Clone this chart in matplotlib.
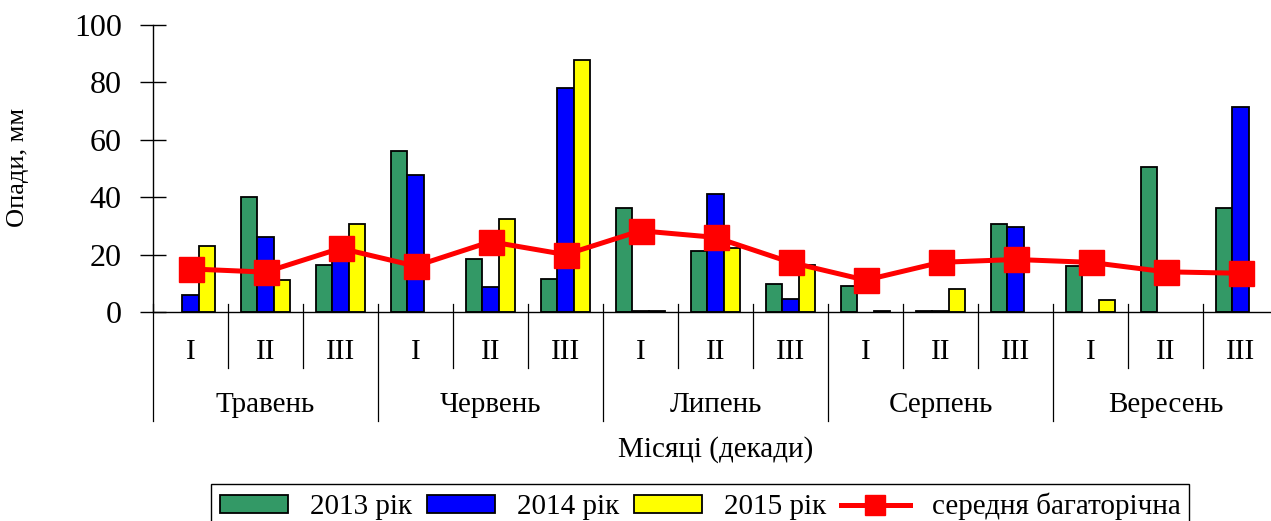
"""Опади по декадах (травень–вересень), 2013–2015 рр. та середня багаторічна."""
import numpy as np
import matplotlib
matplotlib.use("Agg")
import matplotlib.pyplot as plt
from matplotlib.lines import Line2D
from matplotlib.patches import Patch

# ── data ───────────────────────────────────────────────────────────────────
months = ["Травень", "Червень", "Липень", "Серпень", "Вересень"]
decades = ["I", "II", "III"]

rain_2013 = [0, 40, 16.4, 56, 18.5, 11.5, 36.2, 21.3, 9.8, 9.2, 0.5, 30.7, 16, 50.5, 36.2]
rain_2014 = [6, 26, 26, 47.7, 8.7, 77.9, 0.5, 41, 4.4, 0, 0.5, 29.6, 0, 0, 71.4]
rain_2015 = [23, 11, 30.7, 0, 32.3, 87.8, 0.5, 22.4, 16.4, 0.5, 8.1, 0, 4.3, 0, 0]
rain_mean = [15, 13.9, 22.2, 16, 24.5, 20, 28.3, 26, 17.3, 11.1, 17.3, 18.3, 17.3, 14, 13.5]

series = [("2013 рік", rain_2013, "#339966"),
          ("2014 рік", rain_2014, "#0000FF"),
          ("2015 рік", rain_2015, "#FFFF00")]

plt.rcParams["font.family"] = ["Liberation Serif", "DejaVu Serif"]

# ── figure ─────────────────────────────────────────────────────────────────
fig = plt.figure(figsize=(12.71, 5.21), dpi=100)
ax = fig.add_axes([153 / 1271, 1 - 312 / 521, 1125 / 1271, 287 / 521])

n = len(rain_mean)
x = np.arange(n)
w = 0.22
for k, (name, vals, col) in enumerate(series):
    v = np.asarray(vals, dtype=float)
    v = np.where(v > 0, v, np.nan)
    ax.bar(x + (k - 1) * w, v, width=w, color=col, edgecolor="black",
           linewidth=1.3, zorder=2)

ax.plot(x, rain_mean, color="#FF0000", lw=3.6, marker="s", ms=18,
        zorder=3, solid_joinstyle="miter")

ax.set_xlim(-0.5, n - 0.5)
ax.set_ylim(0, 100)
ax.set_yticks(range(0, 101, 20))
ax.tick_params(axis="y", direction="inout", length=19, width=1,
               labelsize=23, pad=13)
ax.tick_params(axis="x", length=0, labelbottom=False)
for s in ("top", "right"):
    ax.spines[s].set_visible(False)
for s in ("left", "bottom"):
    ax.spines[s].set_linewidth(1)
    ax.spines[s].set_color("black")

# multi-level category axis
tr = ax.get_xaxis_transform()
for k in range(n + 1):
    xs = k - 0.5
    y_end = -0.38 if k % 3 == 0 else -0.195
    ax.plot([xs, xs], [0.028, y_end], color="black", lw=0.9,
            transform=tr, clip_on=False)
for i in range(n):
    ax.text(i, -0.139, decades[i % 3], transform=tr, ha="center",
            va="center", fontsize=21)
for m, name in enumerate(months):
    ax.text(3 * m + 1, -0.324, name, transform=tr, ha="center",
            va="center", fontsize=21)

ax.text(0.5, -0.478, "Місяці (декади)", transform=ax.transAxes,
        ha="center", va="center", fontsize=21)
fig.text(18 / 1271, 1 - 167 / 521, "Опади, мм", rotation=90,
         ha="center", va="center", fontsize=19)

# legend
handles = [Patch(facecolor=col, edgecolor="black", linewidth=1.3)
           for _, _, col in series]
handles.append(Line2D([], [], color="#FF0000", lw=3.6, marker="s", ms=14))
labels = [name for name, _, _ in series] + ["середня багаторічна"]
leg = fig.legend(handles, labels, ncol=4, loc="upper center",
                 bbox_to_anchor=(700 / 1271, 1 - 484 / 521),
                 fontsize=21, frameon=True, fancybox=False,
                 edgecolor="black", framealpha=1, handlelength=2.35,
                 handleheight=0.55, handletextpad=0.75, columnspacing=0.5,
                 borderpad=0.3, borderaxespad=0)
leg.get_frame().set_linewidth(1)

fig.savefig("out.png", dpi=100)
